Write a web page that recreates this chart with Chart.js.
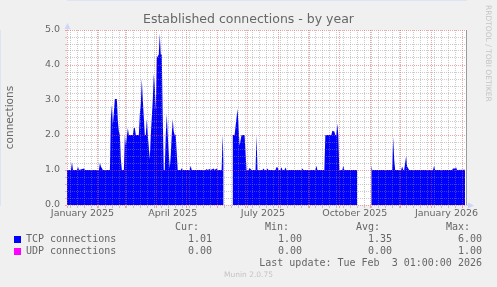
<!DOCTYPE html>
<html>
<head>
<meta charset="utf-8">
<script src="https://cdn.jsdelivr.net/npm/chart.js@4.4.1/dist/chart.umd.min.js"></script>
<style>
  html, body { margin: 0; padding: 0; background: #f0f0f0; }
  #wrap { position: relative; width: 497px; height: 287px; overflow: hidden; }
  #chart { position: absolute; left: 0; top: 0; }
  .t { position: absolute; font: 10px "DejaVu Sans Mono", monospace; color: #666; white-space: pre; line-height: 12px; }
  .box { position: absolute; width: 7px; height: 7px; }
  #rrd { position: absolute; left: 484px; top: 5px; writing-mode: vertical-rl; font: 7.5px "DejaVu Sans", sans-serif; color: #c4c4c4; white-space: nowrap; }
  #ver { position: absolute; left: 0; width: 497px; top: 270px; text-align: center; font: 7.5px "DejaVu Sans", sans-serif; color: #c4c4c4; }
</style>
</head>
<body>
<div id="wrap">
  <canvas id="chart" width="497" height="287"></canvas>
  <div id="rrd">RRDTOOL / TOBI OETIKER</div>
  <div id="legend"></div>
  <div id="ver">Munin 2.0.75</div>
</div>
<script>
// days counted from 1 January 2025
const tcpDays = [0, 4, 5, 6, 10, 11, 12, 17, 18, 32, 33, 34, 35, 36, 43, 44, 45, 46, 48, 50, 51, 52, 53, 54, 55, 57, 58, 59, 61, 62, 66, 67, 68, 69, 72, 73, 74, 75, 76, 77, 78, 79, 80, 81, 83, 84, 85, 86, 87, 88, 89, 90, 92, 93, 94, 95, 96, 97, 98, 99, 100, 101, 102, 103, 104, 105, 106, 107, 108, 109, 110, 111, 114, 115, 116, 123, 124, 125, 139, 140, 141, 143, 144, 147, 148, 150, 151, 155, 156, 157, 158, 165, 166, 168, 171, 173, 175, 178, 180, 182, 183, 185, 189, 190, 191, 196, 197, 198, 200, 201, 202, 209, 210, 211, 212, 214, 215, 216, 218, 219, 220, 235, 236, 237, 249, 250, 251, 258, 259, 265, 266, 268, 269, 270, 271, 272, 273, 276, 277, 278, 291, 292, 304, 305, 306, 326, 327, 328, 329, 335, 336, 337, 338, 339, 340, 341, 342, 343, 367, 368, 369, 386, 387, 389, 390, 391, 399];
const tcpValues = [1.0, 1.0, 1.23, 1.0, 1.0, 1.09, 1.0, 1.04, 1.0, 1.0, 1.2, 1.1, 1.05, 1.0, 1.0, 2.5, 2.86, 2.3, 3.03, 3.03, 2.4, 2.1, 2.0, 1.3, 1.0, 1.0, 2.0, 1.7, 2.2, 2.0, 2.0, 2.2, 2.2, 2.0, 2.0, 2.6, 2.9, 3.6, 3.0, 2.5, 2.0, 2.0, 2.46, 2.0, 1.31, 2.0, 2.5, 3.0, 3.74, 3.4, 2.7, 4.2, 4.3, 4.9, 4.3, 4.3, 2.5, 1.0, 1.0, 2.0, 2.6, 2.0, 1.5, 1.05, 1.4, 2.0, 2.46, 2.1, 2.0, 2.0, 1.5, 1.0, 1.0, 1.05, 1.0, 1.0, 1.12, 1.0, 1.0, 1.03, 1.0, 1.03, 1.0, 1.04, 1.0, 1.04, 1.0, 1.0, 2.0, 1.2, null, null, 2.0, 2.0, 2.75, 1.7, 2.0, 2.0, 1.0, 1.0, 1.06, 1.0, 1.0, 2.0, 1.0, 1.0, 1.04, 1.0, 1.0, 1.04, 1.0, 1.0, 1.08, 1.08, 1.0, 1.0, 1.08, 1.0, 1.0, 1.07, 1.0, 1.0, 1.04, 1.0, 1.0, 1.12, 1.0, 1.0, 2.0, 2.0, 2.12, 2.1, 2.0, 2.0, 2.32, 2.0, 1.0, 1.0, 1.12, 1.0, 1.0, null, null, 1.12, 1.0, 1.0, 1.94, 1.3, 1.0, 1.0, 1.1, 1.0, 1.0, 1.2, 1.4, 1.1, 1.05, 1.0, 1.0, 1.12, 1.0, 1.0, 1.04, 1.04, 1.08, 1.0, 1.01];
const udpDays = [0, 399];
const udpValues = [0, 0];

const monthStarts = [0, 31, 59, 90, 120, 151, 181, 212, 243, 273, 304, 334, 365, 396];
const firstSunday = 4;
const labelDays = [15.5, 106, 196.5, 288.5, 380.5];
const labelTexts = ['January 2025', 'April 2025', 'July 2025', 'October 2025', 'January 2026'];

const seriesNames = ['TCP connections', 'UDP connections'];
const seriesColors = ['#0000ff', '#ff00ff'];
const curVals = ['1.01', '0.00'];
const minVals = ['1.00', '0.00'];
const avgVals = ['1.35', '0.00'];
const maxVals = ['6.00', '1.00'];
const lastUpdate = 'Last update: Tue Feb  3 01:00:00 2026';

// weekly minor grid lines
const weekDays = [];
for (let d = firstSunday; d < 400; d += 7) {
  if (!monthStarts.includes(d)) weekDays.push(d);
}

// legend table under the graph
const legend = document.getElementById('legend');
let html = '';
const heads = [['Cur:', 298], ['Min:', 208], ['Avg:', 117], ['Max:', 27]];
heads.forEach(h => { html += `<div class="t" style="right:${h[1]}px;top:221px">${h[0]}</div>`; });
seriesNames.forEach((name, i) => {
  const top = 233 + i * 12;
  html += `<div class="box" style="left:14px;top:${top + 3}px;background:${seriesColors[i]}"></div>`;
  html += `<div class="t" style="left:26px;top:${top}px">${name}</div>`;
  [[curVals, 285], [minVals, 195], [avgVals, 105], [maxVals, 15]].forEach(c => {
    html += `<div class="t" style="right:${c[1]}px;top:${top}px">${c[0][i]}</div>`;
  });
});
html += `<div class="t" style="right:15px;top:257px">${lastUpdate}</div>`;
legend.innerHTML = html;

const axisCol = '#CFD6F8';
const majorCol = 'rgba(222, 79, 79, 0.5)';
const minorCol = 'rgba(143, 143, 143, 0.45)';

const muninPlugin = {
  id: 'munin',
  beforeDraw(chart) {
    const { ctx, chartArea: a } = chart;
    ctx.save();
    ctx.fillStyle = '#ffffff';
    ctx.fillRect(a.left, a.top, a.right - a.left, a.bottom - a.top);
    ctx.restore();
  },
  afterDraw(chart) {
    const { ctx, chartArea: a } = chart;
    ctx.save();
    // right frame line
    ctx.strokeStyle = '#9a9a9a';
    ctx.lineWidth = 1;
    ctx.beginPath();
    ctx.moveTo(a.right + 0.5, a.top);
    ctx.lineTo(a.right + 0.5, a.bottom);
    ctx.stroke();
    // axis arrows
    ctx.strokeStyle = axisCol;
    ctx.fillStyle = axisCol;
    ctx.beginPath();
    ctx.moveTo(a.left + 0.5, a.top);
    ctx.lineTo(a.left + 0.5, a.top - 3);
    ctx.moveTo(a.right, a.bottom + 0.5);
    ctx.lineTo(a.right + 3, a.bottom + 0.5);
    ctx.stroke();
    ctx.beginPath();
    ctx.moveTo(a.left + 0.5, a.top - 7);
    ctx.lineTo(a.left - 2.5, a.top - 1);
    ctx.lineTo(a.left + 3.5, a.top - 1);
    ctx.closePath();
    ctx.fill();
    ctx.beginPath();
    ctx.moveTo(a.right + 8, a.bottom + 0.5);
    ctx.lineTo(a.right + 2, a.bottom - 2.5);
    ctx.lineTo(a.right + 2, a.bottom + 3.5);
    ctx.closePath();
    ctx.fill();
    ctx.restore();
  }
};

const tickFont = { family: 'DejaVu Sans', size: 9.5 };

new Chart(document.getElementById('chart'), {
  type: 'line',
  data: {
    datasets: [
      {
        label: seriesNames[0],
        data: tcpDays.map((d, i) => ({ x: d, y: tcpValues[i] })),
        backgroundColor: seriesColors[0],
        borderColor: 'rgba(0,0,0,0)',
        borderWidth: 0,
        pointRadius: 0,
        fill: 'origin',
        tension: 0,
        spanGaps: false
      },
      {
        label: seriesNames[1],
        data: udpDays.map((d, i) => ({ x: d, y: udpValues[i] })),
        borderColor: 'rgba(0,0,0,0)',
        borderWidth: 0,
        pointRadius: 0,
        fill: false
      }
    ]
  },
  options: {
    responsive: false,
    animation: false,
    devicePixelRatio: 1,
    layout: { padding: { left: 0, right: 0, top: 0, bottom: 62 } },
    plugins: {
      legend: { display: false },
      tooltip: { enabled: false },
      title: {
        display: true,
        text: 'Established connections - by year',
        color: '#666',
        font: { family: 'DejaVu Sans', size: 12.5, weight: 'normal' },
        padding: { top: 12, bottom: 3 }
      }
    },
    scales: {
      x: {
        type: 'linear',
        min: 0,
        max: 400,
        afterFit: s => { s.height = 20; },
        afterBuildTicks: s => {
          s.ticks = [...monthStarts, ...weekDays, ...labelDays].sort((a, b) => a - b).map(v => ({ value: v }));
        },
        border: { color: axisCol, dash: [1, 1] },
        grid: {
          z: 1,
          tickLength: 3,
          color: c => {
            const v = c.tick && c.tick.value;
            if (monthStarts.includes(v)) return majorCol;
            if (weekDays.includes(v)) return minorCol;
            return 'rgba(0,0,0,0)';
          }
        },
        ticks: {
          autoSkip: false,
          maxRotation: 0,
          padding: 0,
          color: '#666',
          font: tickFont,
          callback: v => {
            const i = labelDays.indexOf(v);
            return i >= 0 ? labelTexts[i] : '';
          }
        }
      },
      y: {
        min: 0,
        max: 5,
        afterFit: s => { s.width = 67; },
        border: { color: axisCol, dash: [1, 1] },
        grid: {
          z: 1,
          tickLength: 2,
          color: c => {
            const v = c.tick ? c.tick.value : 0;
            return Math.abs(v - Math.round(v)) < 1e-6 ? majorCol : minorCol;
          }
        },
        ticks: {
          stepSize: 0.2,
          autoSkip: false,
          padding: 5,
          color: '#666',
          font: tickFont,
          callback: v => Math.abs(v - Math.round(v)) < 1e-6 ? v.toFixed(1) : ''
        },
        title: {
          display: true,
          text: 'connections',
          color: '#666',
          font: { family: 'DejaVu Sans', size: 10.5 },
          padding: { top: 4, bottom: 0 }
        }
      },
      // empty right-hand strip that keeps the plot clear of the side text
      y2: {
        position: 'right',
        afterFit: s => { s.width = 31; },
        grid: { display: false },
        border: { display: false },
        ticks: { display: false }
      }
    }
  },
  plugins: [muninPlugin]
});
</script>
</body>
</html>
